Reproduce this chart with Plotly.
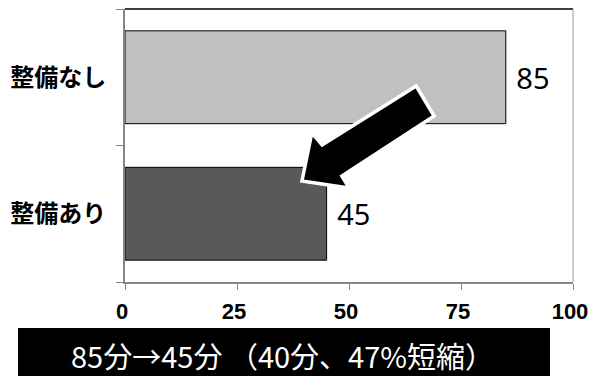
import plotly.graph_objects as go

# Travel time (minutes) with and without the maintenance work
categories = ["整備あり", "整備なし"]
minutes = [45, 85]
bar_colors = ["#595959", "#c0c0c0"]
x_ticks = [0, 25, 50, 75, 100]
caption = "85分→45分 （40分、47%短縮）"

W, H = 589, 376
M_L, M_R, M_T, M_B = 125, 16, 9, 94

fig = go.Figure(
    go.Bar(
        y=categories,
        x=minutes,
        orientation="h",
        marker=dict(color=bar_colors, line=dict(color="#000000", width=1)),
        text=minutes,
        texttemplate=" %{x}",
        textposition="outside",
        textfont=dict(family="Noto Sans", size=29, color="#000000"),
        cliponaxis=False,
        width=0.68,
    )
)

axis_grey = "#868686"

fig.update_layout(
    width=W,
    height=H,
    margin=dict(l=M_L, r=M_R, t=M_T, b=M_B),
    paper_bgcolor="#ffffff",
    plot_bgcolor="#ffffff",
    showlegend=False,
    xaxis=dict(
        range=[0, 100],
        tickvals=x_ticks,
        ticktext=[str(v) for v in x_ticks],
        automargin=False,
        showgrid=False,
        zeroline=False,
        showline=True,
        linecolor=axis_grey,
        linewidth=2,
        ticks="outside",
        ticklen=6,
        tickwidth=1,
        tickcolor=axis_grey,
        ticklabelstandoff=3,
        ticklabelshift=-3,
        ticklabeloverflow="allow",
        tickfont=dict(family="Liberation Sans", size=22,
                      color="#000000", weight=700),
        fixedrange=True,
    ),
    yaxis=dict(
        categoryorder="array",
        categoryarray=categories,
        range=[-0.5, 1.5],
        automargin=False,
        showgrid=False,
        zeroline=False,
        showline=True,
        linecolor=axis_grey,
        linewidth=2,
        ticks="outside",
        tickson="boundaries",
        ticklen=7,
        tickwidth=1,
        tickcolor=axis_grey,
        ticklabelstandoff=12,
        tickfont=dict(family="Noto Sans CJK JP", size=24, color="#000000",
                      weight="bold"),
        fixedrange=True,
    ),
)

# Frame: dark top edge, grey right edge
fig.add_shape(type="line", xref="paper", yref="paper", x0=0, x1=1, y0=1, y1=1,
              line=dict(color="#000000", width=1.5), layer="above")
fig.add_shape(type="line", xref="paper", yref="paper", x0=1, x1=1, y0=0, y1=1,
              line=dict(color="#9a9a9a", width=1), layer="above")

# Block arrow pointing from the longer bar down to the shorter one
arrow_pts = [
    (39.5, 0.24),   # tip
    (41.7, 0.592),  # upper barb
    (44.0, 0.504),
    (65.0, 0.936),  # tail
    (69.0, 0.716),
    (48.4, 0.277),
    (50.0, 0.189),  # lower barb
]
path = "M " + " L ".join(f"{x},{y}" for x, y in arrow_pts) + " Z"
fig.add_shape(type="path", xref="x", yref="y", path=path,
              fillcolor="#000000", line=dict(color="#ffffff", width=3.5),
              layer="above")

# Caption band beneath the chart
pw = W - M_L - M_R
ph = H - M_T - M_B
def px_to_paper_x(px):
    return (px - M_L) / pw
def px_to_paper_y(py):
    return (H - M_B - py) / ph

fig.add_shape(type="rect", xref="paper", yref="paper",
              x0=px_to_paper_x(18), x1=px_to_paper_x(550),
              y0=px_to_paper_y(376), y1=px_to_paper_y(328),
              fillcolor="#000000", line=dict(width=0), layer="above")
fig.add_annotation(text=caption, xref="paper", yref="paper",
                   x=px_to_paper_x(282), y=px_to_paper_y(355),
                   xanchor="center", yanchor="middle", showarrow=False,
                   font=dict(family="Noto Sans CJK JP", size=29, color="#ffffff"))

fig.write_html("out.html")
